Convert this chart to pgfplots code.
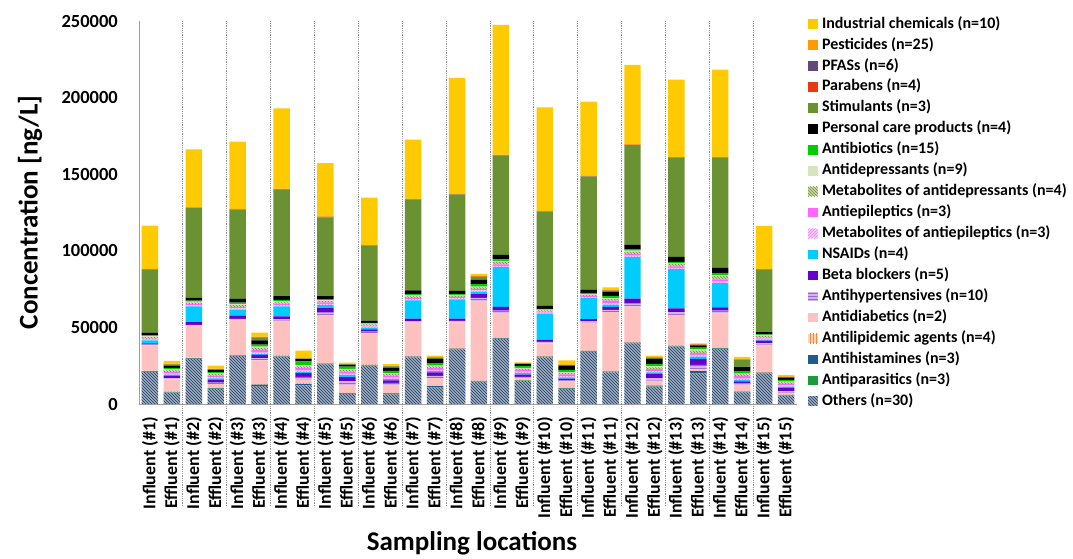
\documentclass[border=0pt]{standalone}
\usepackage{pgfplots}
\pgfplotsset{compat=1.18}
\usepackage{pgfplotstable}
\usetikzlibrary{patterns}
\usepackage{fontspec}
\setmainfont{Carlito}

\definecolor{cInd}{HTML}{FFCA00}
\definecolor{cPest}{HTML}{FF9A00}
\definecolor{cPfas}{HTML}{604A7B}
\definecolor{cPara}{HTML}{E8380D}
\definecolor{cStim}{HTML}{6A9132}
\definecolor{cPcp}{HTML}{000000}
\definecolor{cAbio}{HTML}{00CC00}
\definecolor{cAdep}{HTML}{D7E4BD}
\definecolor{cMeadF}{HTML}{C9DBA5}
\definecolor{cMeadP}{HTML}{6E8F3A}
\definecolor{cAepi}{HTML}{FF66FF}
\definecolor{cMeaeF}{HTML}{FFCCFF}
\definecolor{cMeaeP}{HTML}{FF77FF}
\definecolor{cNsai}{HTML}{00CCFF}
\definecolor{cBeta}{HTML}{6600CC}
\definecolor{cAhypF}{HTML}{D2B4EE}
\definecolor{cAhypP}{HTML}{9966CC}
\definecolor{cAdia}{HTML}{FFC0C0}
\definecolor{cAlipF}{HTML}{FBD5B5}
\definecolor{cAlipP}{HTML}{F08A3C}
\definecolor{cAhis}{HTML}{1F5C8B}
\definecolor{cApar}{HTML}{1E9A3A}
\definecolor{cOthF}{HTML}{9EAEC2}
\definecolor{cOthP}{HTML}{1F3A5F}

\pgfplotstableread{
x oth apar ahis alip adia ahyp beta nsai meae aepi mead adep abio pcp stim para pfas pest ind
0 21000 200 300 300 16500 600 700 2000 500 500 1000 800 500 1500 41500 100 50 200 28150
1 7400 200 300 200 8000 800 1500 800 600 1000 1200 600 1000 1500 800 100 100 300 1700
2 29400 200 400 300 20600 800 1800 10200 700 800 1000 700 600 2000 58400 100 100 300 37800
3 9800 200 300 200 2500 1000 1700 1000 800 1000 1000 600 700 1500 300 100 100 300 1900
4 31300 200 300 300 22700 800 2000 4000 800 900 1200 800 800 2500 58300 100 100 300 43800
5 11700 200 800 300 15500 1500 2000 600 1000 1500 1500 800 1300 2800 2000 100 100 300 2600
6 30900 200 300 300 22700 800 2000 6500 800 1000 800 800 800 2600 69600 100 100 300 52400
7 12200 200 800 300 2200 2000 2500 800 1000 1500 1000 800 2500 1500 300 100 100 300 4700
8 25900 200 300 300 31400 1500 3000 2000 800 1000 800 600 700 2000 51400 100 100 300 34900
9 6500 200 400 200 5200 2500 2600 1300 1000 1300 1000 700 1500 1200 300 100 100 300 600
10 25000 200 300 300 20400 1000 1500 1200 600 700 800 500 500 1500 48800 100 100 200 31000
11 6300 200 400 200 5200 1500 1700 800 900 1300 1000 600 1500 2200 800 100 100 300 1000
12 30500 200 300 300 21900 700 1800 12000 800 800 1000 700 700 2500 59000 100 100 300 38800
13 10900 200 600 200 5000 1500 2300 800 800 1200 1000 600 1600 2700 600 100 100 200 1200
14 35700 200 300 300 16800 1000 1500 12500 800 800 800 600 600 2000 62700 100 100 300 75700
15 14600 200 300 200 52000 2000 2500 1500 800 1000 1000 600 1500 3000 1800 100 100 300 1500
16 42300 200 300 300 16300 1500 2500 25900 800 1000 1500 800 1000 3000 64900 100 100 300 84600
17 15000 200 300 200 1500 500 1500 1000 1000 1000 800 600 1300 1200 200 100 100 200 500
18 30500 200 300 300 8200 1000 1500 17000 600 700 800 500 500 2000 61400 100 100 300 67700
19 9800 200 400 200 4000 800 1200 800 800 1200 800 500 1500 2800 300 100 100 200 2700
20 34100 200 300 300 18000 1000 1500 13700 600 700 800 600 700 2000 73900 100 100 300 48400
21 20700 200 300 300 38400 1500 2000 1500 1000 1500 1000 600 1500 2800 500 100 100 200 2000
22 39600 200 300 400 23000 2000 3300 27200 800 1000 1500 800 1000 3000 64900 100 100 300 51800
23 11300 200 500 200 3000 1500 3000 1000 800 1200 1200 800 1500 3300 500 100 100 300 1000
24 37500 200 300 300 19900 1800 2500 25500 800 1000 1500 600 800 3300 64600 100 100 300 50700
25 20000 200 1200 300 1200 2600 4000 1500 1000 1300 1500 800 1200 1500 300 100 100 200 600
26 35900 200 300 300 22800 1500 2000 15900 1000 1500 2000 800 1200 3500 71700 100 100 300 57200
27 7600 200 300 200 4200 1000 1200 1000 800 1800 1000 600 1500 2600 4800 100 100 200 1600
28 20000 200 300 300 18000 1000 1500 800 500 800 1000 500 500 1500 40700 100 100 200 28300
29 5400 200 300 200 1300 1000 2200 800 700 1000 1000 500 1200 1500 200 100 100 200 1000
}\datatable

\pgfplotsset{
  sqlegend/.style={legend image code/.code={\fill[##1] (0pt,-4.75pt) rectangle (9.5pt,4.75pt);}},
}

\begin{document}
\begin{tikzpicture}
\useasboundingbox (-139pt,-154pt) rectangle (934pt,404pt);
\begin{axis}[
  at={(0pt,0pt)}, anchor=south west,
  scale only axis, width=658pt, height=383pt,
  ybar stacked, bar width=0.75,
  every axis plot post/.append style={sqlegend},
  xmin=-0.5, xmax=29.5, ymin=0, ymax=250000,
  clip=false,
  axis lines*=left,
  axis line style={gray!75, line width=0.9pt},
  major tick length=0pt,
  xtick={0,...,29},
  xticklabels={Influent (\#1),Effluent (\#1),Influent (\#2),Effluent (\#2),Influent (\#3),Effluent (\#3),Influent (\#4),Effluent (\#4),Influent (\#5),Effluent (\#5),Influent (\#6),Effluent (\#6),Influent (\#7),Effluent (\#7),Influent (\#8),Effluent (\#8),Influent (\#9),Effluent (\#9),Influent (\#10),Effluent (\#10),Influent (\#11),Effluent (\#11),Influent (\#12),Effluent (\#12),Influent (\#13),Effluent (\#13),Influent (\#14),Effluent (\#14),Influent (\#15),Effluent (\#15)},
  xticklabel style={rotate=90, anchor=east, inner sep=0pt, font=\fontsize{18}{18}\selectfont\bfseries},
  xticklabel shift=13pt,
  ytick={0,50000,100000,150000,200000,250000},
  yticklabels={0,50000,100000,150000,200000,250000},
  scaled y ticks=false,
  yticklabel style={anchor=east, inner sep=0pt, font=\fontsize{18.5}{18.5}\selectfont\bfseries},
  yticklabel shift=21pt,
  xlabel={Sampling locations},
  xlabel style={at={(axis description cs:0.506,-0.363)}, anchor=center, font=\fontsize{27}{27}\selectfont\bfseries},
  ylabel={Concentration [ng/L]},
  ylabel style={at={(axis description cs:-0.1657,0.5)}, anchor=center, font=\fontsize{27}{27}\selectfont\bfseries},
  reverse legend,
  legend cell align=left,
  legend style={at={(axis description cs:1,1)}, anchor=north west, xshift=11pt, yshift=3.9pt,
    draw=none, fill=none, inner sep=0pt, outer sep=0pt,
    font=\fontsize{16}{16}\selectfont\bfseries,
    row sep=6.95pt, column sep=4.5pt,
    nodes={inner sep=0pt, text height=11pt, text depth=3pt}},
]
\pgfplotsinvokeforeach{1.5,3.5,5.5,7.5,9.5,11.5,13.5,15.5,17.5,19.5,21.5,23.5,25.5,27.5}{
  \draw[gray!85, densely dotted, line width=0.8pt] (axis cs:#1,250000) -- ([yshift=-103pt]axis cs:#1,0);
}
\addplot[draw=none, fill=cOthF, postaction={pattern=north west lines, pattern color=cOthP}] table[x=x,y=oth]{\datatable};
\addlegendentry{Others (n=30)}
\addplot[draw=none, fill=cApar] table[x=x,y=apar]{\datatable};
\addlegendentry{Antiparasitics (n=3)}
\addplot[draw=none, fill=cAhis] table[x=x,y=ahis]{\datatable};
\addlegendentry{Antihistamines (n=3)}
\addplot[draw=none, fill=cAlipF, postaction={pattern=vertical lines, pattern color=cAlipP}] table[x=x,y=alip]{\datatable};
\addlegendentry{Antilipidemic agents (n=4)}
\addplot[draw=none, fill=cAdia] table[x=x,y=adia]{\datatable};
\addlegendentry{Antidiabetics (n=2)}
\addplot[draw=none, fill=cAhypF, postaction={pattern=horizontal lines, pattern color=cAhypP}] table[x=x,y=ahyp]{\datatable};
\addlegendentry{Antihypertensives (n=10)}
\addplot[draw=none, fill=cBeta] table[x=x,y=beta]{\datatable};
\addlegendentry{Beta blockers (n=5)}
\addplot[draw=none, fill=cNsai] table[x=x,y=nsai]{\datatable};
\addlegendentry{NSAIDs (n=4)}
\addplot[draw=none, fill=cMeaeF, postaction={pattern=north east lines, pattern color=cMeaeP}] table[x=x,y=meae]{\datatable};
\addlegendentry{Metabolites of antiepileptics (n=3)}
\addplot[draw=none, fill=cAepi] table[x=x,y=aepi]{\datatable};
\addlegendentry{Antiepileptics (n=3)}
\addplot[draw=none, fill=cMeadF, postaction={pattern=north west lines, pattern color=cMeadP}] table[x=x,y=mead]{\datatable};
\addlegendentry{Metabolites of antidepressants (n=4)}
\addplot[draw=none, fill=cAdep] table[x=x,y=adep]{\datatable};
\addlegendentry{Antidepressants (n=9)}
\addplot[draw=none, fill=cAbio] table[x=x,y=abio]{\datatable};
\addlegendentry{Antibiotics (n=15)}
\addplot[draw=none, fill=cPcp] table[x=x,y=pcp]{\datatable};
\addlegendentry{Personal care products (n=4)}
\addplot[draw=none, fill=cStim] table[x=x,y=stim]{\datatable};
\addlegendentry{Stimulants (n=3)}
\addplot[draw=none, fill=cPara] table[x=x,y=para]{\datatable};
\addlegendentry{Parabens (n=4)}
\addplot[draw=none, fill=cPfas] table[x=x,y=pfas]{\datatable};
\addlegendentry{PFASs (n=6)}
\addplot[draw=none, fill=cPest] table[x=x,y=pest]{\datatable};
\addlegendentry{Pesticides (n=25)}
\addplot[draw=none, fill=cInd] table[x=x,y=ind]{\datatable};
\addlegendentry{Industrial chemicals (n=10)}
\end{axis}
\end{tikzpicture}
\end{document}
